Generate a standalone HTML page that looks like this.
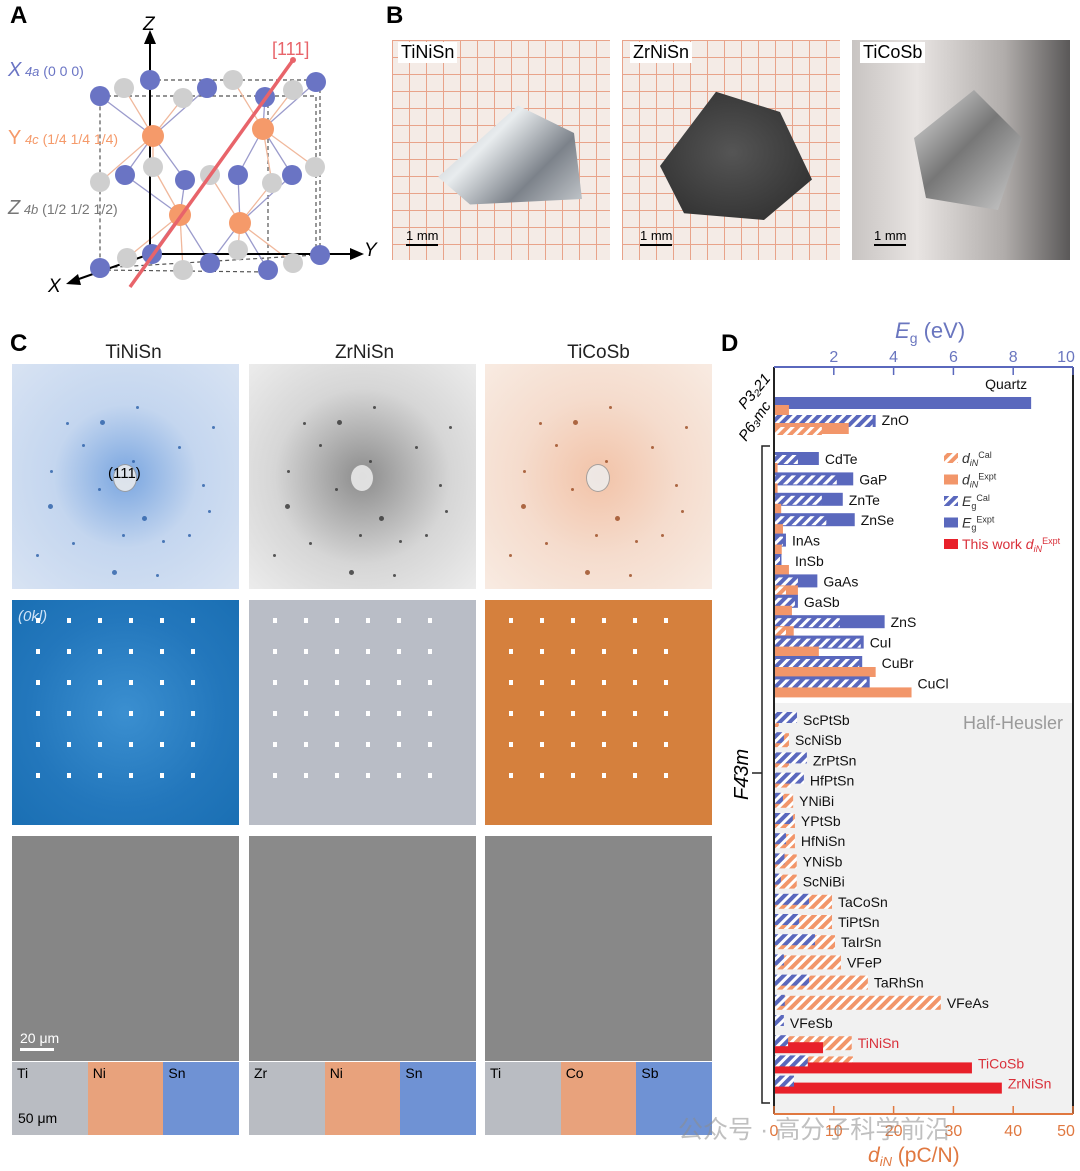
<!DOCTYPE html>
<html><head><meta charset="utf-8">
<style>
*{margin:0;padding:0;box-sizing:border-box}
body{width:1080px;height:1171px;background:#fff;position:relative;overflow:hidden;font-family:"Liberation Sans","Noto Sans CJK SC",sans-serif}
.abs{position:absolute}
.lbl{font-weight:bold;font-size:24px}
.photo{position:absolute;background-color:#f4ebe6;background-image:linear-gradient(#e8a38a 1px,transparent 1px),linear-gradient(90deg,#e8a38a 1px,transparent 1px);background-size:17px 17px}
.tile{position:absolute;width:227px;height:225px;overflow:hidden}
.ctitle{position:absolute;font-size:19px;color:#222;width:227px;text-align:center}
</style></head><body>

<div class="abs lbl" style="left:10px;top:2px">A</div>
<div class="abs lbl" style="left:386px;top:2px">B</div>
<div class="abs lbl" style="left:10px;top:330px">C</div>
<div class="abs lbl" style="left:721px;top:330px">D</div>

<!-- Panel A -->
<svg class="abs" style="left:0;top:0" width="385" height="300">
<g stroke="#555" stroke-dasharray="4,3" stroke-width="1.2" fill="none">
<polyline points="100,96 316,96 316,255 100,268 100,96"/>
<polyline points="150,80 316,80"/>
<line x1="268" y1="97" x2="268" y2="270"/><line x1="320" y1="82" x2="320" y2="255"/>
<polyline points="100,270 268,272"/>
</g>
<g stroke="#9b9bcc" stroke-width="1.3">
<line x1="100" y1="96" x2="153" y2="136"/><line x1="207" y1="88" x2="153" y2="136"/><line x1="125" y1="175" x2="153" y2="136"/><line x1="185" y1="180" x2="153" y2="136"/>
<line x1="265" y1="97" x2="263" y2="129"/><line x1="316" y1="82" x2="263" y2="129"/><line x1="238" y1="175" x2="263" y2="129"/><line x1="292" y1="175" x2="263" y2="129"/>
<line x1="185" y1="180" x2="180" y2="215"/><line x1="125" y1="175" x2="180" y2="215"/><line x1="152" y1="254" x2="180" y2="215"/><line x1="210" y1="263" x2="180" y2="215"/>
<line x1="238" y1="175" x2="240" y2="223"/><line x1="292" y1="175" x2="240" y2="223"/><line x1="268" y1="270" x2="240" y2="223"/><line x1="210" y1="263" x2="240" y2="223"/>
</g>
<g stroke="#f0b89c" stroke-width="1.3">
<line x1="124" y1="88" x2="153" y2="136"/><line x1="183" y1="98" x2="153" y2="136"/><line x1="100" y1="182" x2="153" y2="136"/><line x1="153" y1="167" x2="153" y2="136"/>
<line x1="233" y1="80" x2="263" y2="129"/><line x1="293" y1="90" x2="263" y2="129"/><line x1="315" y1="167" x2="263" y2="129"/><line x1="272" y1="183" x2="263" y2="129"/>
<line x1="153" y1="167" x2="180" y2="215"/><line x1="127" y1="258" x2="180" y2="215"/><line x1="183" y1="270" x2="180" y2="215"/><line x1="210" y1="175" x2="180" y2="215"/>
<line x1="272" y1="183" x2="240" y2="223"/><line x1="238" y1="250" x2="240" y2="223"/><line x1="293" y1="263" x2="240" y2="223"/><line x1="210" y1="175" x2="240" y2="223"/>
</g>
<g stroke="#000" stroke-width="2">
<line x1="150" y1="256" x2="150" y2="40"/><line x1="150" y1="254" x2="352" y2="254"/><line x1="150" y1="254" x2="76" y2="280"/>
</g>
<polygon points="150,30 144,44 156,44" fill="#000"/><polygon points="364,254 350,248 350,260" fill="#000"/><polygon points="66,284 78,274 81,285" fill="#000"/>
<g fill="#cfcfcf">
<circle cx="124" cy="88" r="10"/><circle cx="183" cy="98" r="10"/><circle cx="233" cy="80" r="10"/><circle cx="293" cy="90" r="10"/><circle cx="100" cy="182" r="10"/><circle cx="153" cy="167" r="10"/><circle cx="210" cy="175" r="10"/><circle cx="272" cy="183" r="10"/><circle cx="315" cy="167" r="10"/><circle cx="127" cy="258" r="10"/><circle cx="183" cy="270" r="10"/><circle cx="238" cy="250" r="10"/><circle cx="293" cy="263" r="10"/>
</g>
<g fill="#6a74c4">
<circle cx="150" cy="80" r="10"/><circle cx="100" cy="96" r="10"/><circle cx="207" cy="88" r="10"/><circle cx="265" cy="97" r="10"/><circle cx="316" cy="82" r="10"/><circle cx="125" cy="175" r="10"/><circle cx="185" cy="180" r="10"/><circle cx="238" cy="175" r="10"/><circle cx="292" cy="175" r="10"/><circle cx="152" cy="254" r="10"/><circle cx="210" cy="263" r="10"/><circle cx="268" cy="270" r="10"/><circle cx="320" cy="255" r="10"/><circle cx="100" cy="268" r="10"/>
</g>
<g fill="#f59a6a">
<circle cx="153" cy="136" r="11"/><circle cx="263" cy="129" r="11"/><circle cx="180" cy="215" r="11"/><circle cx="240" cy="223" r="11"/>
</g>
<line x1="130" y1="287" x2="293" y2="60" stroke="#e8646a" stroke-width="3.5"/><circle cx="293" cy="60" r="3" fill="#e8646a"/>
<text x="272" y="55" font-size="18" fill="#e8646a" font-family="Liberation Sans">[111]</text>
<text x="143" y="30" font-size="19" font-style="italic" font-family="Liberation Sans">Z</text>
<text x="364" y="256" font-size="19" font-style="italic" font-family="Liberation Sans">Y</text>
<text x="48" y="292" font-size="19" font-style="italic" font-family="Liberation Sans">X</text>
<text x="8" y="76" font-size="20" fill="#6a74c4" font-family="Liberation Sans"><tspan font-style="italic">X</tspan><tspan font-size="13" font-style="italic"> 4a</tspan><tspan font-size="14"> (0 0 0)</tspan></text>
<text x="8" y="144" font-size="20" fill="#f59a6a" font-family="Liberation Sans"><tspan>Y</tspan><tspan font-size="13" font-style="italic"> 4c</tspan><tspan font-size="14"> (1/4 1/4 1/4)</tspan></text>
<text x="8" y="214" font-size="20" fill="#777" font-family="Liberation Sans"><tspan font-style="italic">Z</tspan><tspan font-size="13" font-style="italic"> 4b</tspan><tspan font-size="14"> (1/2 1/2 1/2)</tspan></text>
</svg>

<!-- Panel B -->
<div class="photo" style="left:392px;top:40px;width:218px;height:220px">
 <div class="abs" style="left:30px;top:60px;width:160px;height:110px;background:linear-gradient(135deg,#9aa0a8,#e8ecee 40%,#7c828a 70%,#c8ccd0);clip-path:polygon(10% 70%,60% 5%,95% 30%,100% 90%,30% 95%)"></div>
 <div class="abs" style="left:6px;top:2px;background:#fff;font-size:18px;padding:0 3px">TiNiSn</div>
 <div class="abs" style="left:14px;top:188px;font-size:13px">1 mm</div><div class="abs" style="left:14px;top:204px;width:32px;height:2px;background:#000"></div>
</div>
<div class="photo" style="left:622px;top:40px;width:218px;height:220px">
 <div class="abs" style="left:30px;top:45px;width:160px;height:135px;background:radial-gradient(#555,#2a2a2a);clip-path:polygon(5% 60%,40% 5%,80% 20%,100% 70%,70% 100%,20% 95%)"></div>
 <div class="abs" style="left:8px;top:2px;background:#fff;font-size:18px;padding:0 3px">ZrNiSn</div>
 <div class="abs" style="left:18px;top:188px;font-size:13px">1 mm</div><div class="abs" style="left:18px;top:204px;width:32px;height:2px;background:#000"></div>
</div>
<div class="photo" style="left:852px;top:40px;width:218px;height:220px">
 <div class="abs" style="left:0;top:0;width:218px;height:220px;background:linear-gradient(90deg,#c8c4c2,#e8e4e2 30%,#b0acaa 70%,#5a5858)"></div>
 <div class="abs" style="left:50px;top:50px;width:120px;height:120px;background:linear-gradient(135deg,#eee,#777 50%,#ccc);clip-path:polygon(10% 40%,60% 0,100% 40%,80% 100%,20% 90%)"></div>
 <div class="abs" style="left:8px;top:2px;background:#fff;font-size:18px;padding:0 3px">TiCoSb</div>
 <div class="abs" style="left:22px;top:188px;font-size:13px;color:#000">1 mm</div><div class="abs" style="left:22px;top:204px;width:32px;height:2px;background:#000"></div>
</div>

<!-- Panel C -->
<div class="ctitle" style="left:20px;top:342px">TiNiSn</div>
<div class="ctitle" style="left:251px;top:342px">ZrNiSn</div>
<div class="ctitle" style="left:485px;top:342px">TiCoSb</div>

<div class="tile" id="d1" style="left:12px;top:364px;background:radial-gradient(circle at 50% 50%,#7aa6e0,#c4d6ef 45%,#d8e3f3)"><div class="abs" style="left:96px;top:101px;font-size:15px;z-index:2">(111)</div></div>
<div class="tile" id="d2" style="left:249px;top:364px;background:radial-gradient(circle at 50% 50%,#8c8c8c,#d6d6d6 55%,#ececec)"></div>
<div class="tile" id="d3" style="left:485px;top:364px;background:radial-gradient(circle at 50% 50%,#f2c3a8,#f5dccd 50%,#f8ebe2)"></div>

<div class="tile" id="o1" style="left:12px;top:600px;background:radial-gradient(circle,#3b8fd0,#2377bc 60%,#1a6fb3)"><div class="abs" style="left:6px;top:8px;color:#cfe3f7;font-size:15px;font-style:italic">(0kl)</div></div>
<div class="tile" id="o2" style="left:249px;top:600px;background:#b9bdc6"></div>
<div class="tile" id="o3" style="left:485px;top:600px;background:#d5803d"></div>

<div class="tile" style="left:12px;top:836px;height:225px;background:#868686"><div class="abs" style="left:8px;top:194px;color:#fff;font-size:14px">20 μm</div><div class="abs" style="left:8px;top:212px;width:34px;height:3px;background:#fff"></div></div>
<div class="tile" style="left:249px;top:836px;height:225px;background:#8a8a8a"></div>
<div class="tile" style="left:485px;top:836px;height:225px;background:#888"></div>

<div id="eds"></div>

<!-- Panel D -->
<svg id="chart" class="abs" style="left:0;top:0" width="1080" height="1171">
<defs>
<pattern id="hb" width="7" height="7" patternUnits="userSpaceOnUse" patternTransform="rotate(45)"><rect width="7" height="7" fill="#5a68bd"/><rect width="3" height="7" fill="#fff"/></pattern>
<pattern id="ho" width="7" height="7" patternUnits="userSpaceOnUse" patternTransform="rotate(45)"><rect width="7" height="7" fill="#f2966a"/><rect width="3" height="7" fill="#fff"/></pattern>
</defs>
</svg>

<div class="abs" style="left:678px;top:1110px;font-size:25px;color:rgba(140,140,140,0.55);white-space:nowrap">公众号 · 高分子科学前沿</div>

<script>
// diffraction decoration spots
const spotCols={d1:'#2a5fa8',d2:'#333',d3:'#9a4a20'};
const spotPos=[[88,56],[54,58],[124,42],[120,96],[38,106],[130,152],[190,120],[176,170],[60,178],[24,190],[100,206],[144,210],[200,62],[166,82],[196,146],[36,140],[86,124],[150,176],[110,170],[70,80]];
['d1','d2','d3'].forEach(id=>{const h=document.getElementById(id);spotPos.forEach((p,k)=>{const s=document.createElement('div');s.className='abs';const r=k%5==0?5:3;s.style.cssText=`left:${p[0]}px;top:${p[1]}px;width:${r}px;height:${r}px;border-radius:50%;background:${spotCols[id]};opacity:0.8`;h.appendChild(s);});
 const c=document.createElement('div');c.className='abs';c.style.cssText='left:101px;top:100px;width:24px;height:28px;border-radius:50%;background:#eee;border:1px solid #999;opacity:0.85';h.appendChild(c);});
['o1','o2','o3'].forEach(id=>{const h=document.getElementById(id);for(let i=0;i<6;i++)for(let j=0;j<6;j++){const s=document.createElement('div');s.className='abs';s.style.cssText=`left:${24+j*31}px;top:${18+i*31}px;width:4px;height:5px;background:#fff`;h.appendChild(s);}});

// EDS strips
const edsSets=[["Ti","Ni","Sn",12],["Zr","Ni","Sn",249],["Ti","Co","Sb",485]];
const edsCol=["#b9bcc2","#e8a27c","#6f92d4"];
const edsHost=document.getElementById('eds');
edsSets.forEach(s=>{for(let k=0;k<3;k++){const d=document.createElement('div');


d.className='abs';d.style.cssText=`left:${s[3]+k*75.7}px;top:1062px;width:76px;height:73px;background:${edsCol[k]};font-size:14px;padding:3px 5px`;d.textContent=s[k];edsHost.appendChild(d);}});
const sb=document.createElement('div');sb.className='abs';sb.style.cssText='left:18px;top:1110px;font-size:14px';sb.textContent='50 μm';


edsHost.appendChild(sb);

// chart data
const topNames=["Quartz","ZnO"];
const topEgExpt=[8.6,3.4];
const topEgCal=[null,3.3];
const topDExpt=[2.5,12.5];
const topDCal=[null,8];
const zbNames=["CdTe","GaP","ZnTe","ZnSe","InAs","InSb","GaAs","GaSb","ZnS","CuI","CuBr","CuCl"];
const zbEgExpt=[1.5,2.65,2.3,2.7,0.4,0.25,1.45,0.8,3.7,3.0,2.95,3.2];
const zbEgCal=[0.8,2.1,1.6,1.75,0.3,0.2,0.8,0.7,2.2,2.9,2.85,3.1];
const zbDExpt=[0.6,0.6,1.2,1.5,1.3,2.5,4,3,3.3,7.5,17,23];
const zbDCal=[null,null,null,null,null,null,2,null,2,null,null,null];
const hhNames=["ScPtSb","ScNiSb","ZrPtSn","HfPtSn","YNiBi","YPtSb","HfNiSn","YNiSb","ScNiBi","TaCoSn","TiPtSn","TaIrSn","VFeP","TaRhSn","VFeAs","VFeSb","TiNiSn","TiCoSb","ZrNiSn"];
const hhEgCal=[0.77,0.33,1.1,1.0,0.3,0.63,0.4,0.35,0.23,1.17,0.84,1.37,0.33,1.17,0.36,0.33,0.47,1.13,0.67];
const hhDCal=[0.8,2.5,2.5,2.8,3.2,3.5,3.5,3.8,3.8,9.7,9.7,10.2,11.2,15.7,27.9,0,13,13.2,3.2];
const hhDWork=[null,null,null,null,null,null,null,null,null,null,null,null,null,null,null,null,8.2,33.1,38.1];
const egTicks=[2,4,6,8,10];
const dTicks=[0,10,20,30,40,50];

const X0=774,X1=1073,T=367,B=1114;
const xEg=v=>X0+v/10*(X1-X0);
const xD=v=>X0+v/50*(X1-X0);
const svg=document.getElementById('chart');
const NS='http://www.w3.org/2000/svg';
function mk(tag,attrs,txt){const e=document.createElementNS(NS,tag);for(const k in attrs)e.setAttribute(k,attrs[k]);if(txt!==undefined)e.textContent=txt;svg.appendChild(e);return e;}

let e;
e=mk('rect',{x:X0,y:703,width:X1-X0,height:B-703,fill:'#f1f1f1'});


e=mk('text',{x:1063,y:729,'font-size':18,fill:'#9a9a9a','text-anchor':'end','font-family':'Liberation Sans'},'Half-Heusler');



function bar(x0,x1,y,h,fill,name){const r=mk('rect',{x:x0,y:y,width:Math.max(0,x1-x0),height:h,fill:fill});

}
function label(x,y,t,col,name){const l=mk('text',{x:x,y:y,'font-size':14,fill:col,'font-family':'Liberation Sans'},t);

}

// top group
const topY=[403,421];
topNames.forEach((n,i)=>{const c=topY[i];
 bar(X0,xEg(topEgExpt[i]),c-6,12,'#5a68bd','bar-eg-expt-'+n);
 if(topEgCal[i]!=null)bar(X0,xEg(topEgCal[i]),c-6,12,'url(#hb)','bar-eg-cal-'+n);
 bar(X0,xD(topDExpt[i]),c+2,11,'#f2966a','bar-d-expt-'+n);
 if(topDCal[i]!=null)bar(X0,xD(topDCal[i]),c+6,8,'url(#ho)','bar-d-cal-'+n);
 if(i==0)label(xEg(topEgExpt[i])-46,c-14,n,'#111','label-'+n);
 else label(Math.max(xEg(topEgExpt[i]),xD(topDExpt[i]))+6,c+4,n,'#111','label-'+n);
});
// zinc blende group
zbNames.forEach((n,i)=>{const c=459+i*20.4;
 bar(X0,xEg(zbEgExpt[i]),c-7,13,'#5a68bd','bar-eg-expt-'+n);
 bar(X0,xEg(zbEgCal[i]),c-4,9,'url(#hb)','bar-eg-cal-'+n);
 bar(X0,xD(zbDExpt[i]),c+4,10,'#f2966a','bar-d-expt-'+n);
 if(zbDCal[i]!=null)bar(X0,xD(zbDCal[i]),c+5,8,'url(#ho)','bar-d-cal-'+n);
 label(Math.max(xEg(zbEgExpt[i]),xD(zbDExpt[i]))+6,c+5,n,'#111','label-'+n);
});
// half-heusler group
hhNames.forEach((n,i)=>{const c=720+i*20.2;
 bar(X0,xD(hhDCal[i]),c-7,14,'url(#ho)','bar-d-cal-'+n);
 if(hhDWork[i]!=null)bar(X0,xD(hhDWork[i]),c-1,11,'#e8202a','bar-d-thiswork-'+n);
 bar(X0,xEg(hhEgCal[i]),c-8,11,'url(#hb)','bar-eg-cal-'+n);
 const end=Math.max(xEg(hhEgCal[i]),xD(hhDCal[i]),hhDWork[i]!=null?xD(hhDWork[i]):0);
 label(end+6,c+5,n,hhDWork[i]!=null?'#d9303a':'#111','label-'+n);
});

// frame
mk('line',{x1:X0,y1:T,x2:X0,y2:B,stroke:'#222','stroke-width':2});
mk('line',{x1:X1,y1:T,x2:X1,y2:B,stroke:'#222','stroke-width':2});
mk('line',{x1:X0,y1:T,x2:X1,y2:T,stroke:'#5a68bd','stroke-width':2});
mk('line',{x1:X0,y1:B,x2:X1,y2:B,stroke:'#e07840','stroke-width':2});
egTicks.forEach(v=>{mk('line',{x1:xEg(v),y1:T,x2:xEg(v),y2:T+8,stroke:'#5a68bd','stroke-width':1.5});
 const t=mk('text',{x:Math.min(xEg(v),1066),y:362,'font-size':16,fill:'#6a76bf','text-anchor':'middle','font-family':'Liberation Sans'},v);
 
 });
dTicks.forEach(v=>{mk('line',{x1:xD(v),y1:B,x2:xD(v),y2:B-8,stroke:'#e07840','stroke-width':1.5});
 const t=mk('text',{x:Math.min(xD(v),1066),y:1136,'font-size':16,fill:'#e07840','text-anchor':'middle','font-family':'Liberation Sans'},v);
 
 });
e=mk('text',{x:895,y:338,'font-size':22,fill:'#6a76bf','font-family':'Liberation Sans'});
e.innerHTML='<tspan font-style="italic">E</tspan><tspan font-size="14" dy="5">g</tspan><tspan dy="-5"> (eV)</tspan>';


e=mk('text',{x:868,y:1162,'font-size':21,fill:'#e07840','font-family':'Liberation Sans'});
e.innerHTML='<tspan font-style="italic">d</tspan><tspan font-size="13" dy="4" font-style="italic">iN</tspan><tspan dy="-4"> (pC/N)</tspan>';


// bracket and space groups
mk('polyline',{points:'770,446 762,446 762,1103 770,1103',fill:'none',stroke:'#222','stroke-width':1.5});
mk('line',{x1:752,y1:773,x2:762,y2:773,stroke:'#222','stroke-width':1.5});
e=mk('text',{x:748,y:800,'font-size':20,'font-style':'italic',transform:'rotate(-90 748 800)','font-family':'Liberation Sans'},'F4̄3m');


e=mk('text',{x:745,y:410,'font-size':15,'font-style':'italic',transform:'rotate(-50 745 410)','font-family':'Liberation Sans'},'P3₂21');


e=mk('text',{x:746,y:442,'font-size':15,'font-style':'italic',transform:'rotate(-55 746 442)','font-family':'Liberation Sans'},'P6₃mc');


// legend
const legFills=['url(#ho)','#f2966a','url(#hb)','#5a68bd','#e8202a'];
const legText=['<tspan font-style="italic">d</tspan><tspan font-size="9" dy="3" font-style="italic">iN</tspan><tspan font-size="9" dy="-8">Cal</tspan>','<tspan font-style="italic">d</tspan><tspan font-size="9" dy="3" font-style="italic">iN</tspan><tspan font-size="9" dy="-8">Expt</tspan>','<tspan font-style="italic">E</tspan><tspan font-size="9" dy="3">g</tspan><tspan font-size="9" dy="-8">Cal</tspan>','<tspan font-style="italic">E</tspan><tspan font-size="9" dy="3">g</tspan><tspan font-size="9" dy="-8">Expt</tspan>','This work <tspan font-style="italic">d</tspan><tspan font-size="9" dy="3" font-style="italic">iN</tspan><tspan font-size="9" dy="-8">Expt</tspan>'];
legFills.forEach((f,i)=>{const y=453+i*21.5;
 const r=mk('rect',{x:944,y:y,width:14,height:10,fill:f});
 
 
 const t=mk('text',{x:962,y:y+10,'font-size':14,fill:i==4?'#d9303a':'#333','font-family':'Liberation Sans'});
 t.innerHTML=legText[i];
 
 });
</script>
</body></html>
